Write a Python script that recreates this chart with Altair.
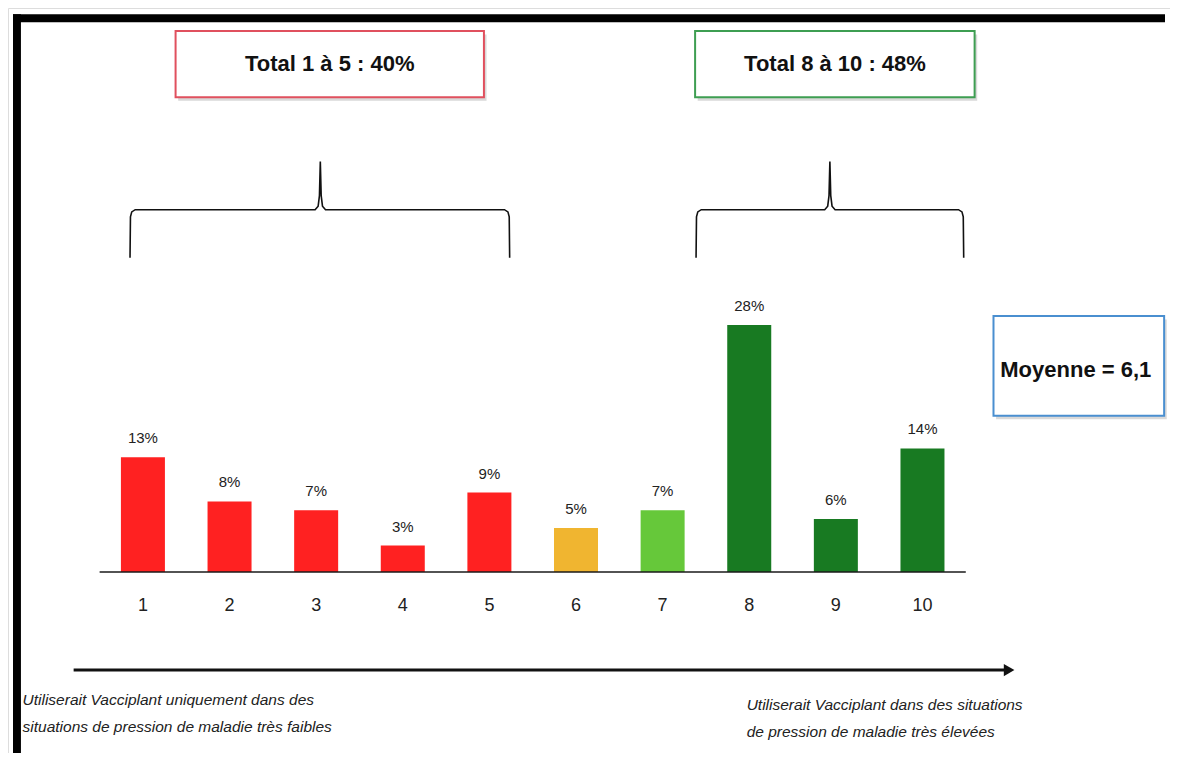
import altair as alt
import pandas as pd

# ---------------- data ----------------
scores = [1, 2, 3, 4, 5, 6, 7, 8, 9, 10]
shares = [13, 8, 7, 3, 9, 5, 7, 28, 6, 14]
tiers = ["faible", "faible", "faible", "faible", "faible", "neutre", "moyen", "élevé", "élevé", "élevé"]
tier_names = ["faible", "neutre", "moyen", "élevé"]

group_titles = ["Total 1 à 5 : 40%", "Total 8 à 10 : 48%"]
mean_text = "Moyenne = 6,1"
note_low = ["Utiliserait Vacciplant uniquement dans des",
            "situations de pression de maladie très faibles"]
note_high = ["Utiliserait Vacciplant dans des situations",
             "de pression de maladie très élevées"]

# ---------------- styles ----------------
tier_colors = ["#FF2121", "#F0B530", "#66C83A", "#187A22"]
box_colors = ["#E0505E", "#3E9E52"]
mean_color = "#4A8FD0"
FONT = "Liberation Sans Narrow, Liberation Sans, Arial, sans-serif"

W, H = 1162, 745
X = alt.Scale(domain=[-0.5, 12.8], nice=False, zero=False)
Y = alt.Scale(domain=[-20.5, 63.9], nice=False, zero=False)


def xq(f="x"):
    return alt.X(f"{f}:Q", scale=X, axis=None)


def yq(f="y"):
    return alt.Y(f"{f}:Q", scale=Y, axis=None)


bars_df = pd.DataFrame({"score": scores, "share": shares, "tier": tiers,
                        "label": [f"{v}%" for v in shares],
                        "tick": [str(s) for s in scores],
                        "zero": [0] * len(scores),
                        "ty": [-3.8] * len(scores)})

bars = alt.Chart(bars_df).mark_bar(size=44).encode(
    x=xq("score"),
    y=yq("share"),
    y2="zero:Q",
    color=alt.Color("tier:N", scale=alt.Scale(domain=tier_names, range=tier_colors), legend=None),
)

value_labels = alt.Chart(bars_df).mark_text(
    dy=-14, baseline="alphabetic", fontSize=15, font=FONT, color="#222"
).encode(x=xq("score"), y=yq("share"), text="label:N")

tick_labels = alt.Chart(bars_df).mark_text(
    baseline="middle", fontSize=18, font=FONT, color="#222"
).encode(x=xq("score"), y=yq("ty"), text="tick:N")

baseline_df = pd.DataFrame({"x": [0.5], "x2": [10.5], "y": [0]})
baseline = alt.Chart(baseline_df).mark_rule(color="#1a1a1a", strokeWidth=1.6).encode(
    x=xq(), x2="x2:Q", y=yq())

# group boxes
box_df = pd.DataFrame({
    "title": group_titles,
    "x": [1.377, 7.375], "x2": [4.937, 10.602],
    "y": [61.3, 61.3], "y2": [53.8, 53.8],
    "cx": [3.157, 8.99], "cy": [57.5, 57.5],
    "col": box_colors,
})
shadow_df = box_df.assign(x=box_df.x + 0.03, x2=box_df.x2 + 0.03, y=box_df.y - 0.4, y2=box_df.y2 - 0.4)
box_shadow = alt.Chart(shadow_df).mark_rect(color="#cfcfcf", opacity=0.8).encode(
    x=xq(), x2="x2:Q", y=yq(), y2="y2:Q")
boxes = alt.Chart(box_df).mark_rect(fill="white", strokeWidth=2).encode(
    x=xq(), x2="x2:Q", y=yq(), y2="y2:Q",
    stroke=alt.Color("col:N", scale=None))
box_text = alt.Chart(box_df).mark_text(
    fontSize=22, fontWeight="bold", font=FONT, color="#111", baseline="middle"
).encode(x=xq("cx"), y=yq("cy"), text="title:N")

# mean box
mean_df = pd.DataFrame({"x": [10.82], "x2": [12.79], "y": [29.0], "y2": [17.7],
                        "cx": [11.77], "cy": [22.9], "t": [mean_text]})
mean_shadow = alt.Chart(mean_df.assign(x=mean_df.x + 0.03, x2=mean_df.x2 + 0.03,
                                       y=mean_df.y - 0.4, y2=mean_df.y2 - 0.4)).mark_rect(
    color="#cfcfcf", opacity=0.8).encode(x=xq(), x2="x2:Q", y=yq(), y2="y2:Q")
mean_box = alt.Chart(mean_df).mark_rect(fill="white", stroke=mean_color, strokeWidth=2).encode(
    x=xq(), x2="x2:Q", y=yq(), y2="y2:Q")
mean_lbl = alt.Chart(mean_df).mark_text(
    fontSize=22, fontWeight="bold", font=FONT, color="#111", baseline="middle"
).encode(x=xq("cx"), y=yq("cy"), text="t:N")


# braces
def brace(name, x1, xm, x2, yb=35.6, yh=41.05, yp=46.5):
    pts = [(x1, yb), (x1 + 0.005, yh - 0.8), (x1 + 0.02, yh - 0.25), (x1 + 0.06, yh),
           (xm - 0.06, yh), (xm - 0.025, yh + 0.4), (xm - 0.01, yh + 1.6), (xm, yp),
           (xm + 0.01, yh + 1.6), (xm + 0.025, yh + 0.4), (xm + 0.06, yh),
           (x2 - 0.06, yh), (x2 - 0.02, yh - 0.25), (x2 - 0.005, yh - 0.8), (x2, yb)]
    return [{"b": name, "o": i, "x": p[0], "y": p[1]} for i, p in enumerate(pts)]


brace_df = pd.DataFrame(brace("low", 0.851, 3.048, 5.234) + brace("high", 7.386, 8.931, 10.476))
braces = alt.Chart(brace_df).mark_line(color="#111", strokeWidth=1.6).encode(
    x=xq(), y=yq(), detail="b:N", order="o:Q")

# arrow
arrow_df = pd.DataFrame({"x": [0.20], "x2": [10.97], "y": [-11.1]})
arrow_line = alt.Chart(arrow_df).mark_rule(color="#111", strokeWidth=3).encode(
    x=xq(), x2="x2:Q", y=yq())
head_df = pd.DataFrame({"x": [11.0], "y": [-11.1]})
arrow_head = alt.Chart(head_df).mark_point(
    shape="triangle-right", filled=True, color="#111", size=150, opacity=1
).encode(x=xq(), y=yq())

# notes
notes_df = pd.DataFrame({
    "t": note_low + note_high,
    "x": [-0.39, -0.39, 7.97, 7.97],
    "y": [-14.5, -17.55, -15.06, -18.12],
})
notes = alt.Chart(notes_df).mark_text(
    align="left", baseline="middle", fontSize=15.5, fontStyle="italic", font=FONT, color="#222"
).encode(x=xq(), y=yq(), text="t:N")

# frame (scan border)
frame_df = pd.DataFrame({
    "x": [-0.5, -0.5], "x2": [12.8, -0.4084],
    "y": [63.19, 63.19], "y2": [62.29, -20.5],
})
frame = alt.Chart(frame_df).mark_rect(color="black").encode(
    x=xq(), x2="x2:Q", y=yq(), y2="y2:Q")

chart = alt.layer(
    frame,
    box_shadow, boxes, box_text,
    mean_shadow, mean_box, mean_lbl,
    braces,
    bars, value_labels, baseline, tick_labels,
    arrow_line, arrow_head, notes,
).properties(
    width=W, height=H, padding=0,
    autosize=alt.AutoSizeParams(type="none"),
).configure_view(stroke=None).configure(background="white")

chart.save("out.html", embed_options={"renderer": "svg", "actions": False})
